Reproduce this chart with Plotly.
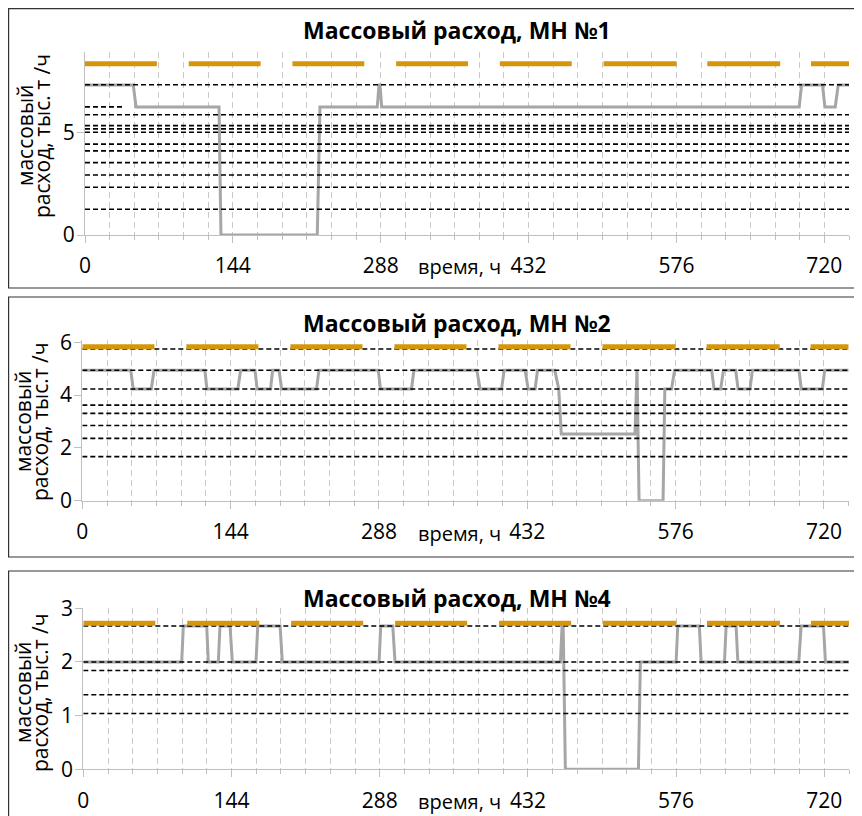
import plotly.graph_objects as go

# ---------------- data ----------------
T_END = 744
# orange dashed "limit" line: segment starts / ends (hours)
orange_start = [0, 101, 202, 303, 404, 505, 606, 707]
orange_end = [70, 171, 272, 373, 474, 576, 677, 744]

# ---- MH 1 ----
mh1_title = "Массовый расход, МН №1"
mh1_ytitle = ["массовый", "расход, тыс. т /ч"]
mh1_orange = 8.33
mh1_levels = [7.31, 5.85, 5.32, 5.16, 5.00, 4.42, 4.09, 3.52, 2.92, 2.32, 1.25]
mh1_short_level = [6.23]
mh1_short_end = [38]
mh1_t = [0, 47, 49.7, 130.5, 132.4, 226.2, 228.8, 284.6, 286.3, 287.3, 288.9,
         695.5, 697.8, 718.2, 720.5, 730.6, 733.5, 744]
mh1_v = [7.30, 7.30, 6.23, 6.23, 0, 0, 6.23, 6.23, 7.30, 7.30, 6.23,
         6.23, 7.30, 7.30, 6.23, 6.23, 7.30, 7.30]
mh1_yticks = [0, 5]
mh1_ymax = 8.9

# ---- MH 2 ----
mh2_title = "Массовый расход, МН №2"
mh2_ytitle = ["массовый", "расход, тыс.т /ч"]
mh2_orange = 5.83
mh2_levels = [5.75, 4.94, 4.23, 3.62, 3.31, 2.85, 2.36, 1.67]
mh2_t = [0, 47, 49.5, 67, 69.6, 119, 121, 151, 153.7, 167.6, 169.8, 182.8, 184.7,
         191, 193.5, 227.4, 229.7, 287.3, 289.5, 319.6, 321.9, 383, 386.2, 407,
         409.5, 429.9, 432.8, 439.6, 441.9, 458.7, 462.5, 465, 536.5, 538.5,
         540.5, 563.8, 565.5, 572, 575, 611, 613.3, 619.7, 622.4, 634.3, 636.6,
         648.2, 650.5, 695.7, 698, 718.4, 720.7, 744]
mh2_v = [4.94, 4.94, 4.23, 4.23, 4.94, 4.94, 4.23, 4.23, 4.94, 4.94, 4.23, 4.23, 4.94,
         4.94, 4.23, 4.23, 4.94, 4.94, 4.23, 4.23, 4.94, 4.94, 4.23, 4.23,
         4.94, 4.94, 4.23, 4.23, 4.94, 4.94, 4.23, 2.53, 2.53, 4.94,
         0, 0, 4.23, 4.23, 4.94, 4.94, 4.23, 4.23, 4.94, 4.94, 4.23,
         4.23, 4.94, 4.94, 4.23, 4.23, 4.94, 4.94]
mh2_yticks = [0, 2, 4, 6]
mh2_ymax = 6.1

# ---- MH 4 ----
mh4_title = "Массовый расход, МН №4"
mh4_ytitle = ["массовый", "расход, тыс.т /ч"]
mh4_orange = 2.72
mh4_levels = [2.67, 2.00, 1.84, 1.39, 1.04]
mh4_t = [0, 95.6, 97.2, 119.9, 121.5, 131.2, 132.8, 142.6, 144.8, 167.8, 169.5,
         191.2, 193.4, 287.4, 289, 300.7, 302.9, 463.6, 465.2, 466.3, 468.4,
         539.4, 541.3, 576, 577.6, 598.6, 600.3, 623, 624.6, 634.3, 636,
         695.2, 697.5, 719.2, 721.1, 744]
mh4_v = [2.0, 2.0, 2.67, 2.67, 2.0, 2.0, 2.67, 2.67, 2.0, 2.0, 2.67,
         2.67, 2.0, 2.0, 2.67, 2.67, 2.0, 2.0, 2.67, 2.67, 0,
         0, 2.0, 2.0, 2.67, 2.67, 2.0, 2.0, 2.67, 2.67, 2.0,
         2.0, 2.67, 2.67, 2.0, 2.0]
mh4_yticks = [0, 1, 2, 3]
mh4_ymax = 3.0

x_tickvals = [0, 144, 288, 432, 576, 720]
x_title = "время, ч"

# ---------------- layout geometry (pixels of the browser window) ----------------
OFF = 8                      # page body margin: figure starts 8 px from window edge
W, H = 862 - OFF, 816 - OFF  # figure fills the rest of the window
FONT = "Open Sans"
ORANGE = "#D6960C"
GRAYLINE = "#A6A6A6"
GRID = "#C8C8C8"
AXIS = "#BFBFBF"

panels = [
    dict(title=mh1_title, ytitle=mh1_ytitle, orange=mh1_orange, levels=mh1_levels,
         t=mh1_t, v=mh1_v, yticks=mh1_yticks, ymax=mh1_ymax,
         x0=85, x1=849, y0=235, y1=52, frame=(6, 5, 900, 288),
         title_y=30, xlab_y=267, ytl_y=136, ytl_x=(25, 42)),
    dict(title=mh2_title, ytitle=mh2_ytitle, orange=mh2_orange, levels=mh2_levels,
         t=mh2_t, v=mh2_v, yticks=mh2_yticks, ymax=mh2_ymax,
         x0=82.3, x1=848.7, y0=500.7, y1=339.7, frame=(7, 297, 900, 557),
         title_y=323, xlab_y=533, ytl_y=422, ytl_x=(23, 40)),
    dict(title=mh4_title, ytitle=mh4_ytitle, orange=mh4_orange, levels=mh4_levels,
         t=mh4_t, v=mh4_v, yticks=mh4_yticks, ymax=mh4_ymax,
         x0=83.3, x1=849, y0=769.3, y1=608.3, frame=(7, 571, 900, 900),
         title_y=598, xlab_y=801, ytl_y=693, ytl_x=(23, 40)),
]

def px_x(p):
    return max(p - OFF, 0.6) / W

def px_y(p):
    return 1 - max(p - OFF, 0.6) / H

fig = go.Figure()
annotations = []
shapes = []

for i, p in enumerate(panels):
    n = "" if i == 0 else str(i + 1)
    xa, ya = "x" + n, "y" + n

    # flow line
    fig.add_trace(go.Scatter(x=p["t"], y=p["v"], mode="lines", xaxis=xa, yaxis=ya,
                             line=dict(color=GRAYLINE, width=3), hoverinfo="skip"))
    # dashed black horizontal levels
    lx, ly = [], []
    for lv in p["levels"]:
        lx += [0, T_END, None]
        ly += [lv, lv, None]
    if i == 0:
        for lv, te in zip(mh1_short_level, mh1_short_end):
            lx += [0, te, None]
            ly += [lv, lv, None]
    fig.add_trace(go.Scatter(x=lx, y=ly, mode="lines", xaxis=xa, yaxis=ya,
                             line=dict(color="#000000", width=1.6, dash="5px,3px"),
                             hoverinfo="skip"))
    # orange dashed limit
    ox, oy = [], []
    for s, e in zip(orange_start, orange_end):
        ox += [s, e, None]
        oy += [p["orange"], p["orange"], None]
    fig.add_trace(go.Scatter(x=ox, y=oy, mode="lines", xaxis=xa, yaxis=ya,
                             line=dict(color=ORANGE, width=5), hoverinfo="skip"))

    fig.update_layout(**{
        ("xaxis" + n): dict(
            domain=[px_x(p["x0"]), px_x(p["x1"])], anchor=ya, range=[0, T_END],
            automargin=False,
            tickmode="array", tickvals=x_tickvals, ticks="outside", ticklen=7,
            tickcolor=AXIS, showline=True, linecolor=AXIS, linewidth=1,
            showgrid=True, gridcolor=GRID, griddash="6px,4px", gridwidth=1,
            zeroline=False, ticklabelstandoff=5,
            tickfont=dict(family=FONT, size=21, color="#000000"),
            minor=dict(dtick=24, tick0=0, ticks="outside", ticklen=4, tickcolor=AXIS,
                       showgrid=True, gridcolor=GRID, griddash="6px,4px", gridwidth=1),
        ),
        ("yaxis" + n): dict(
            domain=[px_y(p["y0"]), px_y(p["y1"])], anchor=xa, range=[0, p["ymax"]],
            automargin=False,
            tickmode="array", tickvals=p["yticks"], ticks="outside", ticklen=7,
            tickcolor=AXIS, showline=True, linecolor=AXIS, linewidth=1,
            showgrid=False, zeroline=False, ticklabelstandoff=-2,
            tickfont=dict(family=FONT, size=21, color="#000000"),
        ),
    })

    # title
    annotations.append(dict(text="<b>" + p["title"] + "</b>", xref="paper", yref="paper",
                            x=px_x(457), y=px_y(p["title_y"]), xanchor="center",
                            yanchor="middle", showarrow=False,
                            font=dict(family=FONT, size=23, color="#000000")))
    # x axis title
    annotations.append(dict(text=x_title, xref="paper", yref="paper",
                            x=px_x(459), y=px_y(p["xlab_y"]), xanchor="center",
                            yanchor="middle", showarrow=False,
                            font=dict(family=FONT, size=20, color="#000000")))
    # y axis title (two lines)
    for line_txt, cx in zip(p["ytitle"], p["ytl_x"]):
        annotations.append(dict(text=line_txt, xref="paper", yref="paper",
                                x=px_x(cx), y=px_y(p["ytl_y"]), xanchor="center",
                                yanchor="middle", textangle=-90, showarrow=False,
                                font=dict(family=FONT, size=21, color="#000000")))
    # frame
    fx0, fy0, fx1, fy1 = p["frame"]
    shapes.append(dict(type="rect", xref="paper", yref="paper",
                       x0=px_x(fx0), x1=px_x(fx1), y0=px_y(fy1), y1=px_y(fy0),
                       line=dict(color="#333333", width=1.2), layer="below"))

fig.update_layout(width=W, height=H, margin=dict(l=0, r=0, t=0, b=0),
                  paper_bgcolor="white", plot_bgcolor="white", showlegend=False,
                  annotations=annotations, shapes=shapes,
                  font=dict(family=FONT, color="#000000"))

fig.write_html("out.html")
